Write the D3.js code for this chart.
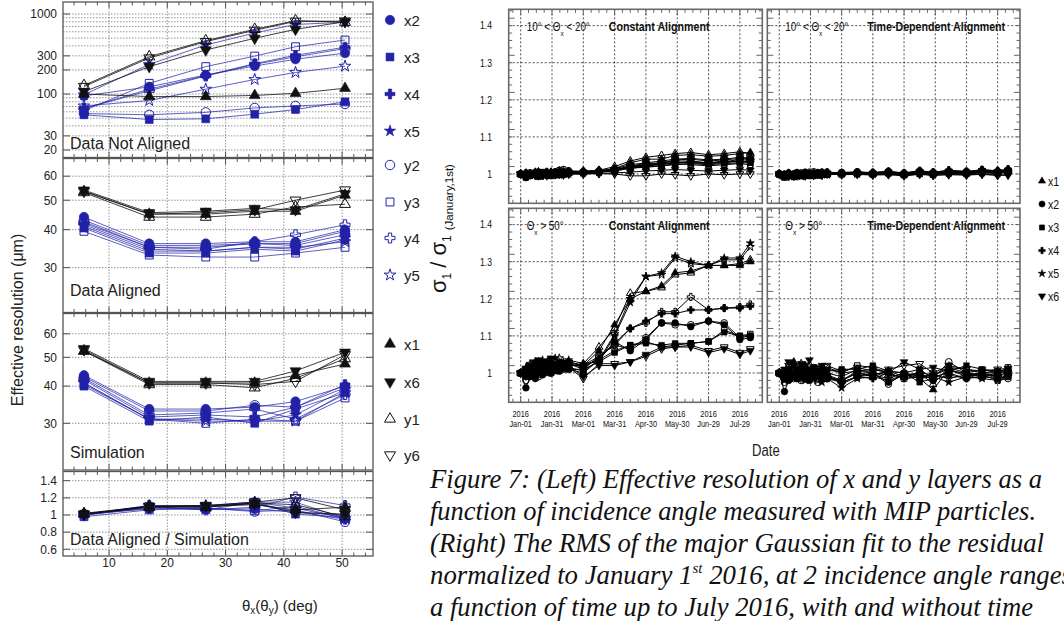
<!DOCTYPE html>
<html>
<head>
<meta charset="utf-8">
<script src="https://cdn.jsdelivr.net/npm/d3@7"></script>
<style>
  body { margin: 0; background: #fff; }
  svg { display: block; font-family: "Liberation Sans", Arial, sans-serif; }
</style>
</head>
<body>
<svg id="figure" width="1064" height="621"></svg>
<script>
// ---------- left: effective resolution vs incidence angle ----------
const angles = [5.7, 16.9, 26.6, 35, 42, 50.5];
const layerNames = ["x1", "x2", "x3", "x4", "x5", "x6", "y1", "y2", "y3", "y4", "y5", "y6"];

// rows follow layerNames, resolution in um
const notAligned = [
  [100, 93, 93, 96, 102, 118],
  [95, 123, 173, 224, 272, 325],
  [55, 48, 49, 56, 64, 80],
  [66, 115, 170, 240, 305, 385],
  [98, 235, 410, 580, 740, 790],
  [107, 220, 355, 497, 644, 800],
  [128, 293, 464, 644, 826, 790],
  [57, 55, 59, 67, 71, 75],
  [62, 136, 220, 298, 390, 473],
  [66, 110, 168, 235, 292, 370],
  [71, 83, 115, 152, 186, 223],
  [124, 282, 452, 625, 810, 815]
];
const aligned = [
  [53.5, 45, 45, 46, 46, 52],
  [44, 36, 36, 36.5, 36.5, 40],
  [40.5, 33.5, 33.5, 34.5, 34, 37],
  [42, 35, 35, 36, 35.5, 38.5],
  [41, 34, 34, 35, 34.5, 37.5],
  [54, 45.5, 46, 47, 46.5, 52.5],
  [53, 44, 44, 45, 47.5, 48.5],
  [43, 35.5, 35.5, 36, 36, 39.5],
  [39.5, 33, 32.5, 32.5, 33.5, 35],
  [42.5, 35, 34.5, 36.5, 38.5, 41.5],
  [41.5, 34.5, 34, 35, 35, 36.5],
  [53.5, 45, 45.5, 46.5, 50, 54]
];
const simulation = [
  [52.5, 41, 41, 41, 43.5, 47.5],
  [43.5, 33.5, 33.5, 34, 35.5, 40],
  [40, 30.5, 31.5, 30, 33.5, 38],
  [42, 31.5, 32, 31.5, 34, 40.5],
  [41, 31, 31, 30.5, 32, 39],
  [53.5, 41.5, 41.5, 41.5, 45, 52],
  [52.5, 40.5, 40.5, 39.5, 42.5, 49.5],
  [43, 33, 33, 34.5, 34, 39.5],
  [40.5, 31, 30, 31, 30.5, 36.5],
  [42.5, 32, 32.5, 33.5, 31, 37.5],
  [41, 31, 30.5, 30.5, 30.5, 38],
  [53, 41, 41, 40.5, 41.5, 51]
];
const alignedOverSim = [
  [1.02, 1.10, 1.10, 1.12, 1.06, 1.09],
  [1.01, 1.07, 1.07, 1.07, 1.03, 1.00],
  [1.01, 1.10, 1.06, 1.15, 1.01, 0.97],
  [1.00, 1.11, 1.09, 1.14, 1.04, 0.95],
  [1.00, 1.10, 1.10, 1.15, 1.08, 0.96],
  [1.01, 1.10, 1.11, 1.13, 1.03, 1.01],
  [1.01, 1.09, 1.09, 1.14, 1.12, 0.98],
  [1.00, 1.08, 1.08, 1.04, 1.06, 0.92],
  [0.98, 1.06, 1.08, 1.05, 1.10, 0.96],
  [1.00, 1.09, 1.06, 1.09, 1.21, 1.11],
  [1.01, 1.11, 1.11, 1.15, 1.15, 0.96],
  [1.01, 1.10, 1.11, 1.15, 1.20, 1.06]
];

const notAlignedTicks = [20, 30, 100, 200, 300, 1000];
const notAlignedGrid = [20, 30, 40, 50, 60, 70, 80, 90, 100, 200, 300, 400, 500, 600, 700, 800, 900, 1000];
const resolutionTicks = [30, 40, 50, 60];
const ratioTicks = [0.6, 0.8, 1, 1.2, 1.4];
const angleTicks = [10, 20, 30, 40, 50];
const legendLeft = ["x2", "x3", "x4", "x5", "y2", "y3", "y4", "y5", "x1", "x6", "y1", "y6"];

// ---------- right: sigma_1 normalised to January 1st vs date ----------
const runDates = [
  "2016-01-01", "2016-01-06", "2016-01-10", "2016-01-15", "2016-01-18", "2016-01-22",
  "2016-01-26", "2016-01-30", "2016-02-03", "2016-02-07", "2016-02-11", "2016-02-16",
  "2016-03-01", "2016-03-16", "2016-03-31", "2016-04-15", "2016-04-30", "2016-05-15",
  "2016-05-28", "2016-06-12", "2016-06-29", "2016-07-14", "2016-07-29", "2016-08-08"
];
const dateTicks = ["2016-01-01", "2016-01-31", "2016-03-01", "2016-03-31", "2016-04-30", "2016-05-30", "2016-06-29", "2016-07-29"];
const sigmaTicks = [1, 1.1, 1.2, 1.3, 1.4];
const legendRight = ["x1", "x2", "x3", "x4", "x5", "x6"];

// 10 < theta_x < 20, constant alignment (rows follow layerNames)
const constLow = [
  [1, 0.995, 1.0, 1.005, 0.998, 1.0, 1.002, 0.997, 1.003, 1.0, 1.005, 1.002, 1.005, 1.008, 1.015, 1.03, 1.04, 1.04, 1.05, 1.052, 1.048, 1.05, 1.055, 1.058],
  [1, 0.99, 0.995, 1.0, 0.993, 1.002, 0.996, 1.0, 1.004, 0.998, 1.0, 1.003, 1.004, 1.006, 1.01, 1.02, 1.025, 1.03, 1.035, 1.035, 1.03, 1.032, 1.04, 1.04],
  [1, 0.993, 0.998, 1.002, 0.996, 0.999, 1.001, 0.995, 1.0, 1.002, 0.998, 1.004, 1.003, 1.005, 1.008, 1.015, 1.02, 1.022, 1.025, 1.028, 1.025, 1.028, 1.03, 1.03],
  [1, 0.996, 1.002, 0.997, 1.003, 0.995, 1.0, 1.004, 0.998, 1.003, 1.001, 1.005, 1.004, 1.007, 1.012, 1.022, 1.028, 1.03, 1.038, 1.04, 1.035, 1.038, 1.042, 1.045],
  [1, 0.992, 0.997, 1.001, 0.994, 0.998, 1.002, 0.996, 1.0, 0.997, 1.002, 1.0, 1.003, 1.005, 1.01, 1.018, 1.022, 1.025, 1.03, 1.03, 1.028, 1.03, 1.035, 1.035],
  [1, 0.994, 0.999, 0.996, 1.001, 0.997, 0.995, 1.0, 0.998, 1.001, 0.997, 1.0, 1.0, 1.002, 1.003, 1.005, 1.008, 1.01, 1.012, 1.01, 1.008, 1.01, 1.012, 1.01],
  [1, 1.002, 0.997, 1.0, 1.004, 0.999, 1.003, 1.005, 1.0, 1.008, 1.003, 1.006, 1.008, 1.01, 1.02, 1.035, 1.045, 1.05, 1.055, 1.058, 1.052, 1.055, 1.06, 1.055],
  [1, 0.997, 1.003, 0.998, 1.005, 1.0, 1.004, 1.002, 1.006, 1.01, 1.012, 1.008, 1.006, 1.008, 1.012, 1.018, 1.022, 1.028, 1.03, 1.033, 1.03, 1.035, 1.032, 1.035],
  [1, 1.0, 0.996, 1.003, 1.0, 1.005, 0.998, 1.002, 1.004, 1.0, 1.006, 1.004, 1.005, 1.006, 1.01, 1.016, 1.018, 1.022, 1.028, 1.025, 1.022, 1.025, 1.028, 1.025],
  [1, 1.003, 0.998, 1.004, 0.999, 1.002, 1.006, 1.0, 1.003, 1.007, 1.004, 1.008, 1.007, 1.009, 1.014, 1.025, 1.03, 1.035, 1.04, 1.042, 1.038, 1.04, 1.045, 1.04],
  [1, 1.001, 0.999, 1.002, 1.006, 1.001, 0.999, 1.004, 1.002, 1.005, 1.009, 1.005, 1.004, 1.006, 1.01, 1.02, 1.024, 1.028, 1.032, 1.03, 1.03, 1.033, 1.036, 1.03],
  [1, 0.998, 1.001, 0.997, 1.0, 0.996, 1.0, 0.998, 1.001, 0.999, 1.002, 1.0, 1.0, 1.001, 1.0, 0.995, 0.995, 1.0, 0.998, 0.995, 1.0, 0.998, 1.0, 1.0]
];
// 10 < theta_x < 20, time-dependent alignment
const timeDepLow = [
  [1, 0.992, 0.997, 0.993, 0.998, 0.995, 0.999, 0.994, 1.0, 0.996, 1.0, 0.998, 1.0, 1.002, 1.0, 1.003, 0.998, 1.004, 1.0, 1.006, 1.002, 1.008, 1.004, 1.01],
  [1, 0.995, 1.0, 0.996, 1.002, 0.998, 1.003, 0.997, 1.001, 0.999, 1.002, 1.0, 1.003, 1.004, 1.002, 1.005, 1.0, 1.006, 1.003, 1.005, 1.006, 1.007, 1.005, 1.008],
  [1, 0.99, 0.996, 0.992, 0.997, 0.994, 0.998, 0.995, 0.999, 0.997, 0.998, 1.0, 1.0, 1.001, 0.999, 1.002, 0.997, 1.0, 0.998, 1.002, 1.0, 1.003, 1.002, 1.004],
  [1, 0.996, 1.001, 0.995, 1.0, 0.997, 1.002, 0.998, 1.0, 1.001, 0.999, 1.002, 1.002, 1.003, 1.004, 1.006, 1.002, 1.008, 1.004, 1.01, 1.006, 1.012, 1.008, 1.012],
  [1, 0.994, 0.998, 0.996, 0.999, 0.993, 0.997, 1.0, 0.996, 0.999, 1.001, 0.998, 1.001, 1.0, 1.002, 1.004, 1.0, 1.003, 1.001, 1.004, 1.003, 1.005, 1.004, 1.006],
  [1, 0.997, 0.993, 0.998, 0.995, 1.0, 0.996, 0.999, 0.997, 1.0, 0.998, 1.001, 0.999, 1.0, 0.998, 1.0, 0.996, 1.0, 0.997, 0.999, 0.998, 1.0, 0.997, 0.998],
  [1, 0.993, 0.998, 0.995, 1.0, 0.996, 1.001, 0.997, 1.002, 0.999, 1.003, 1.001, 1.002, 1.004, 1.001, 1.005, 0.999, 1.006, 1.002, 1.008, 1.004, 1.01, 1.006, 1.012],
  [1, 0.998, 1.002, 0.999, 1.004, 1.0, 1.005, 1.001, 1.006, 1.003, 1.005, 1.004, 1.004, 1.006, 1.003, 1.007, 1.002, 1.008, 1.004, 1.007, 1.006, 1.009, 1.007, 1.01],
  [1, 0.996, 0.999, 0.997, 1.001, 0.998, 0.996, 1.0, 0.998, 1.002, 1.0, 0.999, 1.001, 1.002, 1.0, 1.003, 0.998, 1.004, 1.0, 1.003, 1.002, 1.004, 1.003, 1.005],
  [1, 0.999, 1.003, 1.0, 0.998, 1.002, 1.0, 1.004, 1.001, 1.003, 1.002, 1.005, 1.003, 1.005, 1.004, 1.007, 1.003, 1.009, 1.005, 1.01, 1.007, 1.011, 1.009, 1.013],
  [1, 0.997, 1.0, 0.994, 0.999, 0.997, 1.001, 0.998, 1.0, 0.996, 1.0, 0.999, 1.0, 1.001, 1.0, 1.003, 0.999, 1.002, 1.0, 1.003, 1.002, 1.004, 1.002, 1.005],
  [1, 0.995, 0.998, 0.994, 0.997, 0.999, 0.995, 0.998, 0.996, 0.999, 0.997, 1.0, 0.998, 0.999, 0.997, 0.998, 0.995, 0.999, 0.996, 0.998, 0.997, 0.999, 0.996, 0.997]
];
// theta_x > 50, constant alignment
const constHigh = [
  [1, 1.005, 1.01, 1.0, 1.015, 1.005, 1.02, 1.01, 1.015, 1.02, 1.01, 1.02, 1.02, 1.06, 1.13, 1.2, 1.22, 1.235, 1.27, 1.275, 1.29, 1.29, 1.29, 1.3],
  [1, 0.96, 0.99, 0.985, 1.0, 0.995, 1.005, 1.0, 1.01, 1.005, 1.02, 1.01, 1.0, 1.035, 1.085, 1.06, 1.09, 1.135, 1.135, 1.125, 1.14, 1.13, 1.09, 1.095],
  [1, 0.99, 1.0, 0.995, 1.005, 1.0, 1.0, 1.01, 1.005, 1.01, 1.015, 1.01, 1.01, 1.03, 1.055, 1.075, 1.08, 1.075, 1.08, 1.08, 1.085, 1.11, 1.1, 1.1],
  [1, 1.0, 1.01, 1.005, 1.015, 1.0, 1.01, 1.02, 1.01, 1.015, 1.02, 1.025, 1.015, 1.04, 1.08, 1.12, 1.14, 1.16, 1.16, 1.17, 1.17, 1.175, 1.175, 1.18],
  [1, 1.015, 1.02, 1.03, 1.015, 1.035, 1.01, 1.025, 1.04, 1.02, 1.03, 1.035, 1.025, 1.03, 1.1, 1.19, 1.26, 1.27, 1.315, 1.3, 1.29, 1.31, 1.31, 1.35],
  [1, 1.01, 1.02, 1.03, 1.035, 1.025, 1.03, 1.04, 1.02, 1.03, 1.025, 1.02, 0.99, 1.02, 1.02, 1.03, 1.05, 1.07, 1.07, 1.07, 1.055, 1.065, 1.05, 1.06],
  [1, 1.01, 1.0, 1.015, 1.01, 1.02, 1.01, 1.025, 1.02, 1.015, 1.025, 1.02, 1.025, 1.07, 1.12, 1.215, 1.22, 1.23, 1.265, 1.27, 1.29, 1.29, 1.295, 1.305],
  [1, 0.98, 0.995, 1.0, 0.99, 1.005, 1.01, 1.0, 1.015, 1.02, 1.01, 1.025, 1.01, 1.045, 1.075, 1.065, 1.095, 1.135, 1.13, 1.13, 1.14, 1.135, 1.095, 1.1],
  [1, 0.995, 1.005, 1.0, 0.995, 1.01, 1.005, 1.0, 1.015, 1.01, 1.02, 1.015, 1.005, 1.035, 1.06, 1.075, 1.085, 1.07, 1.075, 1.08, 1.085, 1.115, 1.1, 1.105],
  [1, 1.005, 1.0, 1.01, 1.02, 1.01, 1.015, 1.01, 1.02, 1.025, 1.015, 1.03, 1.02, 1.045, 1.075, 1.12, 1.135, 1.165, 1.165, 1.205, 1.17, 1.175, 1.178, 1.185],
  [1, 1.01, 1.025, 1.02, 1.03, 1.02, 1.025, 1.035, 1.03, 1.04, 1.025, 1.03, 1.02, 1.035, 1.105, 1.2, 1.26, 1.265, 1.31, 1.295, 1.29, 1.305, 1.305, 1.34],
  [1, 1.005, 1.015, 1.025, 1.02, 1.03, 1.02, 1.035, 1.015, 1.025, 1.02, 1.015, 0.985, 1.025, 1.025, 1.03, 1.045, 1.065, 1.07, 1.075, 1.06, 1.07, 1.055, 1.065]
];
// theta_x > 50, time-dependent alignment
const timeDepHigh = [
  [1, 0.99, 1.01, 1.03, 0.995, 1.0, 1.02, 0.99, 1.01, 1.0, 1.01, 0.995, 0.98, 1.0, 0.99, 1.005, 1.0, 0.985, 0.955, 1.01, 0.995, 1.0, 1.005, 1.0],
  [1, 0.95, 0.98, 1.0, 0.985, 0.99, 1.005, 0.98, 0.995, 1.0, 0.985, 0.99, 0.975, 0.99, 1.0, 0.975, 0.995, 1.0, 0.98, 0.995, 0.985, 1.0, 0.985, 0.99],
  [1, 0.99, 1.005, 0.995, 1.01, 1.0, 0.99, 1.005, 0.995, 1.0, 1.01, 1.005, 1.01, 1.01, 1.02, 1.005, 1.0, 0.975, 0.985, 1.005, 1.02, 1.01, 1.005, 1.01],
  [1, 0.985, 0.995, 1.005, 0.99, 1.01, 0.985, 1.0, 0.99, 1.005, 0.995, 0.985, 0.975, 0.99, 0.985, 1.0, 0.985, 0.99, 0.99, 1.0, 0.985, 0.99, 0.995, 0.995],
  [1, 0.98, 0.995, 0.985, 1.0, 0.99, 0.98, 0.995, 0.985, 0.99, 0.975, 0.985, 0.96, 0.985, 0.99, 0.98, 0.995, 0.985, 0.99, 0.975, 0.99, 0.985, 0.98, 0.99],
  [1, 1.01, 1.03, 1.02, 1.0, 1.025, 1.01, 1.035, 1.015, 1.005, 1.02, 1.01, 1.0, 1.005, 1.01, 1.0, 1.03, 1.01, 1.015, 1.005, 1.0, 1.01, 1.0, 1.005],
  [1, 1.0, 1.02, 1.01, 1.0, 1.025, 0.995, 1.005, 1.0, 0.99, 1.015, 1.0, 0.99, 1.01, 1.0, 0.995, 0.99, 1.0, 0.97, 1.015, 1.0, 0.99, 1.0, 1.01],
  [1, 0.975, 0.99, 0.985, 1.0, 0.98, 0.99, 1.0, 0.985, 0.975, 0.995, 0.985, 0.98, 1.005, 1.0, 0.97, 1.0, 1.01, 0.985, 1.03, 1.0, 0.995, 0.98, 0.985],
  [1, 0.995, 1.0, 1.01, 0.99, 1.005, 1.0, 0.995, 1.015, 1.01, 1.0, 1.015, 1.0, 1.02, 1.015, 1.0, 0.985, 0.99, 0.995, 1.015, 1.01, 1.0, 1.0, 1.015],
  [1, 0.99, 1.0, 0.995, 1.005, 0.985, 1.0, 0.99, 1.005, 0.995, 1.0, 0.99, 0.98, 1.0, 0.995, 1.005, 0.99, 1.0, 0.995, 1.01, 0.99, 1.0, 0.99, 1.005],
  [1, 0.985, 1.0, 0.99, 0.995, 0.985, 0.99, 1.0, 0.99, 0.98, 0.99, 0.995, 0.97, 0.99, 0.995, 0.985, 1.0, 0.99, 0.995, 0.985, 0.995, 0.99, 0.985, 0.995],
  [1, 1.005, 1.02, 1.01, 1.015, 1.0, 1.02, 1.01, 1.0, 1.015, 1.005, 1.02, 1.005, 1.015, 1.005, 1.01, 1.02, 1.025, 1.0, 1.02, 1.01, 1.005, 1.01, 1.012]
];

const captionLines = [
  "Figure 7: (Left) Effective resolution of x and y layers as a",
  "function of incidence angle measured with MIP particles.",
  "(Right) The RMS of the major Gaussian fit to the residual",
  ["normalized to January 1", "st", " 2016, at 2 incidence angle ranges"],
  "a function of time up to July 2016, with and without time"
];

// ---------- styling helpers ----------
const svg = d3.select("#figure");
const BLUE = "#2222a8";
const shapeOf = {x1: "up", x2: "circle", x3: "square", x4: "cross", x5: "star", x6: "down",
                 y1: "up", y2: "circle", y3: "square", y4: "cross", y5: "star", y6: "down"};
const shapeArea = {circle: 70, square: 62, up: 52, down: 52, cross: 55, star: 42};
const isBlack = l => ["x1", "x6", "y1", "y6"].includes(l);
const isFilled = l => l[0] === "x";

function symbolPath(shape, scale) {
  const type = {up: d3.symbolTriangle, down: d3.symbolTriangle, circle: d3.symbolCircle,
                square: d3.symbolSquare, cross: d3.symbolCross, star: d3.symbolStar}[shape];
  return d3.symbol(type, shapeArea[shape] * scale)();
}

function drawMarker(g, cx, cy, layer, color, scale) {
  const shape = shapeOf[layer];
  g.append("path")
    .attr("d", symbolPath(shape, scale))
    .attr("transform", `translate(${cx},${cy})${shape === "down" ? " rotate(180)" : ""}`)
    .attr("fill", isFilled(layer) ? color : "none")
    .attr("stroke", color)
    .attr("stroke-width", isFilled(layer) ? 0.6 : 1);
}

// ---------- left figure ----------
const xAngle = d3.scaleLinear().domain([2.1, 55.3]).range([63, 373]);

const resPanels = [
  {rows: notAligned, log: true, domain: [16.1, 1413], top: 2, bottom: 157.5,
   ticks: notAlignedTicks, grid: notAlignedGrid, label: "Data Not Aligned", labelY: 149},
  {rows: aligned, log: true, domain: [21.35, 68.6], top: 158.5, bottom: 312.5,
   ticks: resolutionTicks, grid: resolutionTicks, label: "Data Aligned", labelY: 296},
  {rows: simulation, log: true, domain: [20.9, 70.2], top: 313.5, bottom: 470,
   ticks: resolutionTicks, grid: resolutionTicks, label: "Simulation", labelY: 458},
  {rows: alignedOverSim, log: false, domain: [0.522, 1.507], top: 471.5, bottom: 556,
   ticks: ratioTicks, grid: ratioTicks, label: "Data Aligned / Simulation", labelY: 545}
];

const drawOrder = [1, 2, 3, 4, 7, 8, 9, 10, 0, 5, 6, 11]; // blue layers first, black on top

function drawResPanel(p, isLast) {
  const y = (p.log ? d3.scaleLog() : d3.scaleLinear()).domain(p.domain).range([p.bottom, p.top]);
  const [x0, x1] = xAngle.range();
  const g = svg.append("g");

  g.selectAll(".hgrid").data(p.grid).join("line")
    .attr("x1", x0).attr("x2", x1).attr("y1", d => y(d)).attr("y2", d => y(d))
    .attr("stroke", "#666").attr("stroke-width", 0.7).attr("stroke-dasharray", "1.5,1.5");
  g.selectAll(".vgrid").data(angleTicks).join("line")
    .attr("x1", d => xAngle(d)).attr("x2", d => xAngle(d)).attr("y1", p.top).attr("y2", p.bottom)
    .attr("stroke", "#666").attr("stroke-width", 0.7).attr("stroke-dasharray", "1.5,1.5");

  // angle ticks every 2 deg on top and bottom
  const minor = d3.range(4, 56, 2);
  minor.forEach(a => {
    const len = a % 10 === 0 ? 6 : 3.5;
    g.append("line").attr("x1", xAngle(a)).attr("x2", xAngle(a))
      .attr("y1", p.bottom).attr("y2", p.bottom - len).attr("stroke", "#444").attr("stroke-width", 0.9);
    g.append("line").attr("x1", xAngle(a)).attr("x2", xAngle(a))
      .attr("y1", p.top).attr("y2", p.top + len).attr("stroke", "#444").attr("stroke-width", 0.9);
  });
  p.ticks.forEach(v => {
    g.append("line").attr("x1", x0).attr("x2", x0 + 7).attr("y1", y(v)).attr("y2", y(v))
      .attr("stroke", "#444").attr("stroke-width", 0.9);
    g.append("line").attr("x1", x1).attr("x2", x1 - 7).attr("y1", y(v)).attr("y2", y(v))
      .attr("stroke", "#444").attr("stroke-width", 0.9);
  });

  g.selectAll(".ylab").data(p.ticks).join("text")
    .attr("x", 57).attr("y", d => y(d) + 4.3)
    .attr("text-anchor", "end").attr("font-size", 12).attr("fill", "#222")
    .text(d => d);

  const line = d3.line().x((d, i) => xAngle(angles[i])).y(d => y(d));
  drawOrder.forEach(li => {
    const layer = layerNames[li];
    const color = isBlack(layer) ? "#111" : BLUE;
    g.append("path").attr("d", line(p.rows[li]))
      .attr("fill", "none").attr("stroke", color).attr("stroke-width", 0.9)
      .attr("stroke-opacity", isBlack(layer) ? 0.9 : 0.8);
  });
  drawOrder.forEach(li => {
    const layer = layerNames[li];
    const color = isBlack(layer) ? "#111" : BLUE;
    p.rows[li].forEach((v, i) => drawMarker(g, xAngle(angles[i]), y(v), layer, color, 1));
  });

  g.append("rect").attr("x", x0).attr("y", p.top).attr("width", x1 - x0).attr("height", p.bottom - p.top)
    .attr("fill", "none").attr("stroke", "#555").attr("stroke-width", 1.3);

  g.append("text").attr("x", 70).attr("y", p.labelY)
    .attr("font-size", 16).attr("fill", "#222").text(p.label);

  if (isLast) {
    g.selectAll(".xlab").data(angleTicks).join("text")
      .attr("x", d => xAngle(d)).attr("y", 567)
      .attr("text-anchor", "middle").attr("font-size", 12).attr("fill", "#222")
      .text(d => d);
  }
}

resPanels.forEach((p, i) => drawResPanel(p, i === resPanels.length - 1));

// left axis titles
svg.append("text")
  .attr("transform", "translate(23,320) rotate(-90)")
  .attr("text-anchor", "middle").attr("font-size", 16).attr("fill", "#222")
  .text("Effective resolution (μm)");

const xt = svg.append("text").attr("x", 242).attr("y", 611).attr("font-size", 15).attr("fill", "#222");
xt.append("tspan").text("θ");
xt.append("tspan").attr("font-size", 10).attr("dy", 3).text("x");
xt.append("tspan").attr("dy", -3).text("(θ");
xt.append("tspan").attr("font-size", 10).attr("dy", 3).text("y");
xt.append("tspan").attr("dy", -3).text(") (deg)");

// left legend
const legendLeftY = [20, 57, 94, 131, 165, 202, 238, 275, 344, 382, 419, 455];
legendLeft.forEach((layer, i) => {
  const color = isBlack(layer) ? "#111" : BLUE;
  drawMarker(svg, 390, legendLeftY[i], layer, color, 1);
  svg.append("text").attr("x", 404).attr("y", legendLeftY[i] + 5.5)
    .attr("font-size", 15).attr("fill", "#222").text(layer);
});

// ---------- right figure ----------
const parseDay = d3.utcParse("%Y-%m-%d");
const dates = runDates.map(parseDay);
const dateTickValues = dateTicks.map(parseDay);
const DAY = 864e5;
const timeDomain = [new Date(Date.UTC(2016, 0, 1) - 11.5 * DAY), new Date(Date.UTC(2016, 0, 1) + 231.5 * DAY)];
const sigmaDomain = [0.921, 1.444];

const timePanels = [
  {rows: constLow, x0: 508.7, x1: 762.3, y0: 9.3, y1: 203.3, range: "low", title: "Constant Alignment", yLabels: true, dateLabels: false},
  {rows: timeDepLow, x0: 767.3, x1: 1020, y0: 9.3, y1: 203.3, range: "low", title: "Time-Dependent Alignment", yLabels: false, dateLabels: false},
  {rows: constHigh, x0: 508.7, x1: 762.3, y0: 208.3, y1: 402.3, range: "high", title: "Constant Alignment", yLabels: true, dateLabels: true},
  {rows: timeDepHigh, x0: 767.3, x1: 1020, y0: 208.3, y1: 402.3, range: "high", title: "Time-Dependent Alignment", yLabels: false, dateLabels: true}
];

function narrowText(g, x, y, size, anchor) {
  return g.append("text")
    .attr("transform", `translate(${x},${y}) scale(0.82,1)`)
    .attr("font-size", size).attr("text-anchor", anchor || "start").attr("fill", "#111");
}

function drawTimePanel(p) {
  const x = d3.scaleUtc().domain(timeDomain).range([p.x0, p.x1]);
  const y = d3.scaleLinear().domain(sigmaDomain).range([p.y1, p.y0]);
  const g = svg.append("g");

  g.selectAll(".vgrid").data(dateTickValues).join("line")
    .attr("x1", d => x(d)).attr("x2", d => x(d)).attr("y1", p.y0).attr("y2", p.y1)
    .attr("stroke", "#222").attr("stroke-width", 0.8).attr("stroke-dasharray", "2,2");
  g.selectAll(".hgrid").data(sigmaTicks).join("line")
    .attr("x1", p.x0).attr("x2", p.x1).attr("y1", d => y(d)).attr("y2", d => y(d))
    .attr("stroke", "#222").attr("stroke-width", 0.8).attr("stroke-dasharray", "2,2");

  // ticks: every 7.5 days on x, every 0.02 on y
  d3.range(-1, 31).forEach(k => {
    const t = new Date(Date.UTC(2016, 0, 1) + k * 7.5 * DAY);
    if (t < timeDomain[0] || t > timeDomain[1]) return;
    const len = k % 4 === 0 ? 6 : 3.5;
    g.append("line").attr("x1", x(t)).attr("x2", x(t)).attr("y1", p.y1).attr("y2", p.y1 - len)
      .attr("stroke", "#555").attr("stroke-width", 0.9);
    g.append("line").attr("x1", x(t)).attr("x2", x(t)).attr("y1", p.y0).attr("y2", p.y0 + len)
      .attr("stroke", "#555").attr("stroke-width", 0.9);
  });
  d3.range(1, 27).forEach(i => {
    const v = 0.92 + 0.02 * i;
    if (v > sigmaDomain[1]) return;
    const len = i % 5 === 0 ? 6 : 3.5;
    g.append("line").attr("x1", p.x0).attr("x2", p.x0 + len).attr("y1", y(v)).attr("y2", y(v))
      .attr("stroke", "#555").attr("stroke-width", 0.9);
    g.append("line").attr("x1", p.x1).attr("x2", p.x1 - len).attr("y1", y(v)).attr("y2", y(v))
      .attr("stroke", "#555").attr("stroke-width", 0.9);
  });

  const line = d3.line().x((d, i) => x(dates[i])).y(d => y(d));
  p.rows.forEach(row => {
    g.append("path").attr("d", line(row))
      .attr("fill", "none").attr("stroke", "#000").attr("stroke-width", 1);
  });
  p.rows.forEach((row, li) => {
    row.forEach((v, i) => drawMarker(g, x(dates[i]), y(v), layerNames[li], "#000", 0.5));
  });

  g.append("rect").attr("x", p.x0).attr("y", p.y0).attr("width", p.x1 - p.x0).attr("height", p.y1 - p.y0)
    .attr("fill", "none").attr("stroke", "#6a6a6a").attr("stroke-width", 1.6);

  // panel labels
  const al = narrowText(g, p.x0 + 18, p.y0 + 22, 12);
  al.append("tspan").text(p.range === "low" ? "10° < Θ" : "Θ");
  al.append("tspan").attr("font-size", 8).attr("dy", 5).text("x");
  al.append("tspan").attr("dy", -5).text(p.range === "low" ? " < 20°" : " > 50°");
  narrowText(g, p.x0 + 100, p.y0 + 22, 13).attr("font-weight", "bold").text(p.title);

  if (p.yLabels) {
    sigmaTicks.forEach(v => {
      narrowText(g, 492, y(v) + 3.8, 10.5, "end").text(v === 1 ? "1" : d3.format(".1f")(v));
    });
  }
  if (p.dateLabels) {
    const fmt = d3.utcFormat("%b-%d");
    dateTickValues.forEach(t => {
      narrowText(g, x(t), p.y1 + 15, 9, "middle").text("2016");
      narrowText(g, x(t), p.y1 + 25, 9, "middle").text(fmt(t));
    });
  }
}

timePanels.forEach(drawTimePanel);

narrowText(svg, 752, 456, 16).attr("fill", "#222").text("Date");

// right y title
const st = svg.append("text")
  .attr("transform", "translate(446,293) rotate(-90)")
  .attr("font-size", 22).attr("fill", "#111");
st.append("tspan").text("σ");
st.append("tspan").attr("font-size", 12).attr("dy", 5).text("1");
st.append("tspan").attr("dy", -5).attr("dx", 5).text("/");
st.append("tspan").attr("dx", 6).text("σ");
st.append("tspan").attr("font-size", 12).attr("dy", 5).text("1");
st.append("tspan").attr("font-size", 11.5).attr("dx", 5).attr("dy", 2).text("(January,1st)");

// right legend
const legendRightY = [181, 204, 227.5, 250.5, 273.5, 296];
legendRight.forEach((layer, i) => {
  drawMarker(svg, 1042, legendRightY[i], layer, "#000", 0.42);
  narrowText(svg, 1048, legendRightY[i] + 4.5, 13).text(layer);
});

// ---------- caption ----------
const captionWidths = [612, 606, 614, 642, 603];
captionLines.forEach((line, i) => {
  const t = svg.append("text")
    .attr("x", 430).attr("y", 488 + i * 32)
    .attr("font-family", "'Liberation Serif', 'Times New Roman', serif")
    .attr("font-style", "italic").attr("font-size", 27).attr("fill", "#111")
    .attr("textLength", captionWidths[i]).attr("lengthAdjust", "spacingAndGlyphs");
  if (Array.isArray(line)) {
    t.append("tspan").text(line[0]);
    t.append("tspan").attr("font-size", 15).attr("dy", -11).text(line[1]);
    t.append("tspan").attr("dy", 11).text(line[2]);
  } else {
    t.text(line);
  }
});
</script>
</body>
</html>
